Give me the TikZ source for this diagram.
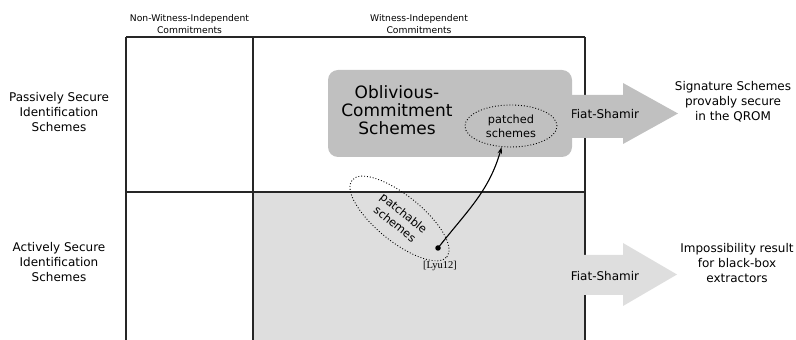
\documentclass[tikz,border=0pt]{standalone}
\usepackage{fontspec}
\setmainfont{DejaVu Sans}
\newfontfamily\lyufont{Liberation Serif}
\usetikzlibrary{arrows.meta,shapes.geometric}
\definecolor{darkbox}{RGB}{192,192,192}
\definecolor{lightbox}{RGB}{222,222,222}
\tikzset{
  gridline/.style={line width=1.2pt, black!85},
  lbl/.style={align=center, font=\fontsize{12}{15}\selectfont, inner sep=0pt},
  hdr/.style={align=center, font=\fontsize{9.2}{12}\selectfont, inner sep=0pt},
  dotell/.style={ellipse, draw, dotted, line width=0.9pt, align=center, inner sep=0pt,
    font=\fontsize{11.3}{14}\selectfont},
  fsarrow/.style={single arrow, single arrow head extend=10pt, minimum height=110pt,
    minimum width=42pt, inner sep=0pt, single arrow tip angle=98, shape border rotate=0},
}
\begin{document}
\begin{tikzpicture}[x=1pt,y=1pt]
\useasboundingbox (0,0) rectangle (796,340);
% light region
\fill[lightbox] (253,0) rectangle (585,148);
% grid
\draw[gridline] (126,303) -- (585,303);
\draw[gridline] (126,148) -- (585,148);
\draw[gridline] (126,303) -- (126,0);
\draw[gridline] (253,303) -- (253,0);
\draw[gridline] (585,303) -- (585,0);
% headers
\node[hdr] (h1) at (189.5,316) {Non-Witness-Independent\\Commitments};
\node[hdr] (h2) at (419,316) {Witness-Independent\\Commitments};
\node[lbl] (r1) at (59,228) {Passively Secure\\Identification\\Schemes};
\node[lbl] (r2) at (59,78) {Actively Secure\\Identification\\Schemes};
\node[lbl] (o1) at (733,238) {Signature Schemes\\provably secure\\in the QROM};
\node[lbl] (o2) at (737,77) {Impossibility result\\for black-box\\extractors};
% arrows
\fill[darkbox] (560,245) -- (623,245) -- (623,257) -- (678,226.5) -- (623,196) -- (623,202) -- (560,202) -- cycle;
\fill[lightbox] (570,85) -- (623,85) -- (623,97) -- (677,65.5) -- (623,34) -- (623,45) -- (570,45) -- cycle;
\node[inner sep=0pt, font=\fontsize{12}{14}\selectfont] (fs1) at (605,226) {Fiat-Shamir};
\node[inner sep=0pt, font=\fontsize{12}{14}\selectfont] (fs2) at (605,64) {Fiat-Shamir};
% oblivious box
\fill[darkbox, rounded corners=10pt] (328,270) rectangle (572,183);
\node[align=center, inner sep=0pt, font=\fontsize{17}{18}\selectfont] (obl) at (397,230) {Oblivious-\\Commitment\\Schemes};
\node[dotell, minimum width=92pt, minimum height=42pt] (patched) at (511,214) {patched\\schemes};
\node[dotell, minimum width=122pt, minimum height=46pt, rotate=-39] (patchable) at (399.5,121.5) {patchable\\schemes};
\node[circle, fill=black, inner sep=0pt, minimum size=5.5pt] (dot) at (438,92) {};
\node[inner sep=0pt, font=\lyufont\fontsize{10.5}{12}\selectfont] (lyu) at (440,74) {[Lyu12]};
\draw[line width=1.1pt, -{Stealth[length=7pt,width=4.5pt]}] (dot.center) to[out=52, in=-106] (patched.-114);
\end{tikzpicture}
\end{document}
